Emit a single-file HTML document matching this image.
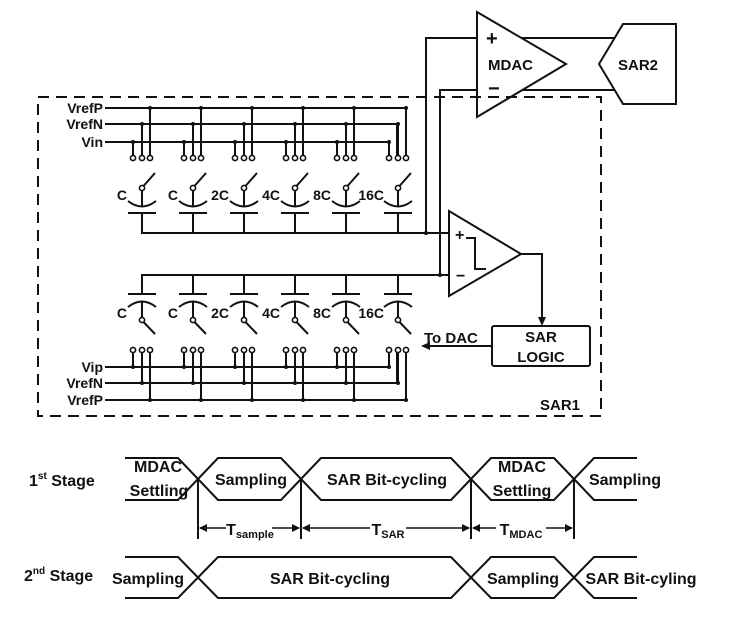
<!DOCTYPE html>
<html><head><meta charset="utf-8"><style>
html,body{margin:0;padding:0;background:#fff}
svg{display:block}
text{font-family:"Liberation Sans",Arial,sans-serif;font-weight:bold;fill:#111}
</style></head><body>
<svg width="734" height="633" viewBox="0 0 734 633" xmlns="http://www.w3.org/2000/svg">
<defs>
<g id="tc" stroke="#111" stroke-width="2" fill="none">
  <line x1="0" y1="142" x2="0" y2="155.5"/>
  <line x1="9" y1="124" x2="9" y2="155.5"/>
  <line x1="17" y1="108" x2="17" y2="155.5"/>
  <circle cx="0" cy="158" r="2.6" fill="#fff" stroke-width="1.6"/>
  <circle cx="9" cy="158" r="2.6" fill="#fff" stroke-width="1.6"/>
  <circle cx="17" cy="158" r="2.6" fill="#fff" stroke-width="1.6"/>
  <circle cx="0" cy="142" r="2" fill="#111" stroke="none"/>
  <circle cx="9" cy="124" r="2" fill="#111" stroke="none"/>
  <circle cx="17" cy="108" r="2" fill="#111" stroke="none"/>
  <circle cx="9" cy="188" r="2.6" fill="#fff" stroke-width="1.6"/>
  <line x1="10.5" y1="186" x2="22" y2="173"/>
  <line x1="9" y1="190.5" x2="9" y2="206"/>
  <path d="M-5,201 Q9,212 23,201"/>
  <line x1="-5" y1="213" x2="23" y2="213"/>
  <line x1="9" y1="213" x2="9" y2="233"/>
</g>
<g id="bc" stroke="#111" stroke-width="2" fill="none">
  <line x1="0" y1="352.5" x2="0" y2="367"/>
  <line x1="9" y1="352.5" x2="9" y2="383"/>
  <line x1="17" y1="352.5" x2="17" y2="400"/>
  <circle cx="0" cy="350" r="2.6" fill="#fff" stroke-width="1.6"/>
  <circle cx="9" cy="350" r="2.6" fill="#fff" stroke-width="1.6"/>
  <circle cx="17" cy="350" r="2.6" fill="#fff" stroke-width="1.6"/>
  <circle cx="0" cy="367" r="2" fill="#111" stroke="none"/>
  <circle cx="9" cy="383" r="2" fill="#111" stroke="none"/>
  <circle cx="17" cy="400" r="2" fill="#111" stroke="none"/>
  <circle cx="9" cy="320" r="2.6" fill="#fff" stroke-width="1.6"/>
  <line x1="10.5" y1="322" x2="22" y2="334"/>
  <line x1="9" y1="302" x2="9" y2="317.5"/>
  <path d="M-5,307 Q9,296 23,307"/>
  <line x1="-5" y1="294" x2="23" y2="294"/>
  <line x1="9" y1="275" x2="9" y2="294"/>
</g>
</defs>

<rect x="38" y="97" width="563" height="319" fill="none" stroke="#111" stroke-width="2" stroke-dasharray="11,7"/>

<g stroke="#111" stroke-width="2" fill="none">
  <line x1="105" y1="108" x2="406" y2="108"/><line x1="406" y1="107" x2="406" y2="156"/>
  <line x1="105" y1="124" x2="397" y2="124"/><line x1="397" y1="123" x2="397" y2="156"/>
  <line x1="105" y1="142" x2="389" y2="142"/><line x1="389" y1="141" x2="389" y2="156"/>
  <line x1="105" y1="367" x2="389" y2="367"/><line x1="389" y1="368" x2="389" y2="352"/>
  <line x1="105" y1="383" x2="397" y2="383"/><line x1="397" y1="384" x2="397" y2="352"/>
  <line x1="105" y1="400" x2="406" y2="400"/><line x1="406" y1="401" x2="406" y2="352"/>
  <polyline points="142,213 142,233 449,233"/>
  <polyline points="142,294 142,275 449,275"/>
  <polyline points="426,233 426,38 477,38"/>
  <polyline points="440,275 440,90 477,90"/>
  <line x1="521" y1="38" x2="617" y2="38"/>
  <line x1="522" y1="90" x2="617" y2="90"/>
  <polygon points="477,12 477,117 566,64"/>
  <polygon points="599,64 623,24 676,24 676,104 623,104" fill="#fff"/>
  <polygon points="449,211 449,296 521,254" fill="#fff"/>
  <polyline points="466,238 475,238 475,269 486,269"/>
  <polyline points="521,254 542,254 542,318"/>
  <rect x="492" y="326" width="98" height="40" rx="2"/>
  <line x1="492" y1="346" x2="427" y2="346"/>
</g>
<circle cx="426" cy="233" r="2" fill="#111"/><circle cx="440" cy="275" r="2" fill="#111"/>
<polygon points="542,326 538,317 546,317" fill="#111"/>
<polygon points="421,346 430,342 430,350" fill="#111"/>

<use href="#tc" x="133"/><use href="#tc" x="184"/><use href="#tc" x="235"/>
<use href="#tc" x="286"/><use href="#tc" x="337"/><use href="#tc" x="389"/>
<use href="#bc" x="133"/><use href="#bc" x="184"/><use href="#bc" x="235"/>
<use href="#bc" x="286"/><use href="#bc" x="337"/><use href="#bc" x="389"/>

<g font-size="14" text-anchor="end">
  <text x="103" y="113">VrefP</text><text x="103" y="129">VrefN</text><text x="103" y="147">Vin</text>
  <text x="103" y="372">Vip</text><text x="103" y="388">VrefN</text><text x="103" y="405">VrefP</text>
  <text x="127" y="200">C</text><text x="178" y="200">C</text><text x="229" y="200">2C</text>
  <text x="280" y="200">4C</text><text x="331" y="200">8C</text><text x="384" y="200">16C</text>
  <text x="127" y="318">C</text><text x="178" y="318">C</text><text x="229" y="318">2C</text>
  <text x="280" y="318">4C</text><text x="331" y="318">8C</text><text x="384" y="318">16C</text>
</g>
<g font-size="15">
  <text x="488" y="70">MDAC</text>
  <text x="618" y="70">SAR2</text>
  <text x="486" y="45" font-size="20">+</text>
  <text x="488" y="95" font-size="20">−</text>
  <text x="455" y="240" font-size="16">+</text>
  <text x="456" y="281" font-size="16">−</text>
  <text x="424" y="343">To DAC</text>
  <text x="541" y="342" text-anchor="middle">SAR</text>
  <text x="541" y="362" text-anchor="middle">LOGIC</text>
  <text x="540" y="410">SAR1</text>
</g>

<g stroke="#111" stroke-width="2" fill="none">
  <polyline points="125,458 178,458 218,500 281,500 321,458 451,458 491,500 554,500 594,458 637,458"/>
  <polyline points="125,500 178,500 218,458 281,458 321,500 451,500 491,458 554,458 594,500 637,500"/>
  <polyline points="125,557 178,557 218,598 451,598 491,557 554,557 594,598 637,598"/>
  <polyline points="125,598 178,598 218,557 451,557 491,598 554,598 594,557 637,557"/>
  <line x1="198" y1="479" x2="198" y2="539"/><line x1="301" y1="479" x2="301" y2="539"/>
  <line x1="471" y1="479" x2="471" y2="539"/><line x1="574" y1="479" x2="574" y2="539"/>
  <g stroke-width="1.5">
    <line x1="200" y1="528" x2="226" y2="528"/><line x1="272" y1="528" x2="299" y2="528"/>
    <line x1="303" y1="528" x2="370" y2="528"/><line x1="406" y1="528" x2="469" y2="528"/>
    <line x1="473" y1="528" x2="496" y2="528"/><line x1="546" y1="528" x2="572" y2="528"/>
  </g>
</g>
<g fill="#111">
  <polygon points="199,528 207,524 207,532"/><polygon points="300,528 292,524 292,532"/>
  <polygon points="302,528 310,524 310,532"/><polygon points="470,528 462,524 462,532"/>
  <polygon points="472,528 480,524 480,532"/><polygon points="573,528 565,524 565,532"/>
</g>
<g font-size="16" text-anchor="middle">
  <text x="158" y="472">MDAC</text><text x="159" y="496">Settling</text>
  <text x="251" y="485">Sampling</text>
  <text x="387" y="485">SAR Bit-cycling</text>
  <text x="522" y="472">MDAC</text><text x="522" y="496">Settling</text>
  <text x="625" y="485">Sampling</text>
  <text x="148" y="584">Sampling</text>
  <text x="330" y="584">SAR Bit-cycling</text>
  <text x="523" y="584">Sampling</text>
  <text x="641" y="584">SAR Bit-cyling</text>
  <text x="250" y="535">T<tspan font-size="11" dy="3">sample</tspan></text>
  <text x="388" y="535">T<tspan font-size="11" dy="3">SAR</tspan></text>
  <text x="521" y="535">T<tspan font-size="11" dy="3">MDAC</tspan></text>
</g>
<g font-size="16">
  <text x="29" y="486">1<tspan font-size="10" dy="-7">st</tspan><tspan dy="7"> Stage</tspan></text>
  <text x="24" y="581">2<tspan font-size="10" dy="-7">nd</tspan><tspan dy="7"> Stage</tspan></text>
</g>
</svg>
</body></html>
